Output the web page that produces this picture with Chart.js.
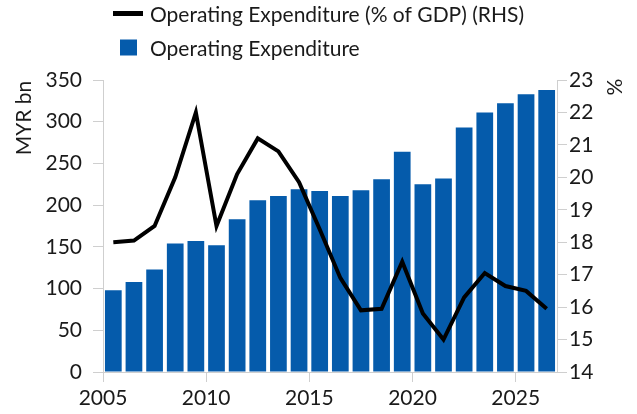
<!DOCTYPE html>
<html>
<head>
<meta charset="utf-8">
<script src="https://cdn.jsdelivr.net/npm/chart.js@4/dist/chart.umd.min.js"></script>
<style>
html,body{margin:0;padding:0;background:#fff;}
#wrap{width:637px;height:414px;position:relative;}
</style>
</head>
<body>
<div id="wrap"><canvas id="c" width="637" height="414"></canvas></div>
<script>
const years = [2005,2006,2007,2008,2009,2010,2011,2012,2013,2014,2015,2016,2017,2018,2019,2020,2021,2022,2023,2024,2025,2026];
const opexBn = [98,108,123,154,157,152,183,206,211,219,217,211,218,231,264,225,232,293,311,322,333,338];
const opexPctGdp = [18.0,18.05,18.5,20.0,22.0,18.5,20.1,21.2,20.8,19.85,18.4,16.9,15.9,15.95,17.4,15.8,15.0,16.3,17.05,16.65,16.5,15.95];
const xTickLabels = [2005,2010,2015,2020,2025];
const leftTicks = [0,50,100,150,200,250,300,350];
const rightTicks = [14,15,16,17,18,19,20,21,22,23];
const labels = ['Operating Expenditure (% of GDP) (RHS)','Operating Expenditure'];
const leftTitle = 'MYR bn';
const rightTitle = '%';

const FONT = 'Lato, "Open Sans", sans-serif';
const FS = 21;
const BLUE = '#055bab';
const AXIS = '#cfcfcf';
const TXT = '#1a1a1a';

const barData = years.map((y,i)=>({x:y+0.5, y:opexBn[i]}));
const lineData = years.map((y,i)=>({x:y+0.5, y:opexPctGdp[i]}));

const decor = {
  id:'decor',
  afterDraw(chart){
    const ctx = chart.ctx;
    ctx.save();
    ctx.font = FS + 'px ' + FONT;
    ctx.fillStyle = TXT;
    ctx.textBaseline = 'alphabetic';
    ctx.textAlign = 'left';
    ctx.strokeStyle = '#000';
    ctx.lineWidth = 5;
    ctx.beginPath(); ctx.moveTo(113,13.5); ctx.lineTo(143,13.5); ctx.stroke();
    ctx.fillText(chart.data.datasets[0].label, 150, 21.5);
    ctx.fillStyle = BLUE;
    ctx.fillRect(120,39.5,17,16);
    ctx.fillStyle = TXT;
    ctx.fillText(chart.data.datasets[1].label, 150, 55.5);
    ctx.textAlign = 'center';
    ctx.textBaseline = 'middle';
    ctx.translate(24.5,118);
    ctx.rotate(-Math.PI/2);
    ctx.fillText(leftTitle,0,0);
    ctx.restore();
    ctx.save();
    ctx.font = FS + 'px ' + FONT;
    ctx.fillStyle = TXT;
    ctx.textAlign = 'center';
    ctx.textBaseline = 'middle';
    ctx.translate(615.5,87);
    ctx.rotate(-Math.PI/2);
    ctx.fillText(rightTitle,0,0);
    ctx.restore();
  }
};

new Chart(document.getElementById('c'), {
  data: {
    datasets: [
      {type:'line', label:labels[0], data:lineData, yAxisID:'y1', borderColor:'#000', borderWidth:4, pointRadius:0, tension:0, order:0, borderJoinStyle:'miter'},
      {type:'bar', label:labels[1], data:barData, yAxisID:'y', backgroundColor:BLUE, borderWidth:0, categoryPercentage:1, barPercentage:0.81, order:1}
    ]
  },
  options: {
    responsive:false,
    animation:false,
    layout:{padding:{top:80,left:0,right:0,bottom:0}},
    plugins:{legend:{display:false}, tooltip:{enabled:false}},
    scales:{
      x:{
        type:'linear', min:2005, max:2027, offset:false,
        afterBuildTicks(s){ s.ticks = xTickLabels.map(v=>({value:v})); },
        afterFit(s){ s.height = 42; },
        grid:{offset:false, drawOnChartArea:false, drawTicks:true, tickLength:10, color:AXIS},
        border:{display:true, color:AXIS, width:1},
        ticks:{font:{family:FONT,size:FS}, color:TXT, padding:4, maxRotation:0, autoSkip:false, callback:v=>String(v)}
      },
      y:{
        type:'linear', position:'left', min:0, max:350,
        afterBuildTicks(s){ s.ticks = leftTicks.map(v=>({value:v})); },
        afterFit(s){ s.width = 103; },
        grid:{drawOnChartArea:false, drawTicks:true, tickLength:10, color:AXIS},
        border:{display:true, color:AXIS, width:1},
        ticks:{font:{family:FONT,size:FS}, color:TXT, padding:11}
      },
      y1:{
        type:'linear', position:'right', min:14, max:23,
        afterBuildTicks(s){ s.ticks = rightTicks.map(v=>({value:v})); },
        afterFit(s){ s.width = 80; },
        grid:{drawOnChartArea:false, drawTicks:true, tickLength:10, color:AXIS},
        border:{display:true, color:AXIS, width:1},
        ticks:{font:{family:FONT,size:FS}, color:TXT, padding:2}
      }
    }
  },
  plugins:[decor]
});
</script>
</body>
</html>
